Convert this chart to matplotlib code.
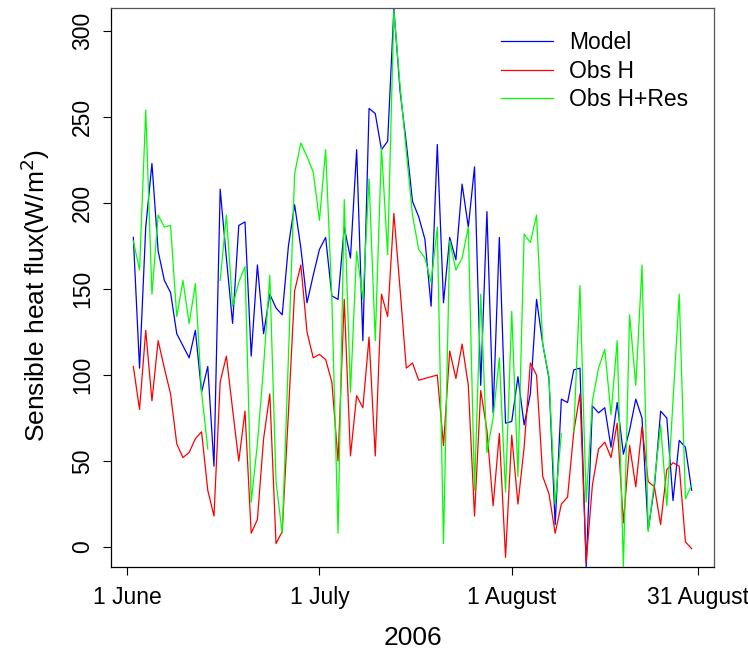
import matplotlib
matplotlib.use("Agg")
import matplotlib.pyplot as plt
import numpy as np

plt.rcParams['font.family'] = ['Liberation Sans', 'DejaVu Sans']

# day index: 0 = 1 June 2006
days = np.arange(1, 92)

model = [180, 104, 186, 223, 172, 155, 148, 124, 117, 110, 126, 90, 105, 47, 208,
         168, 130, 187, 189, 111, 164, 124, 147, 139, 135, 175, 199, 174, 142, 158,
         173, 180, 146, 144, 186, 168, 231, 120, 255, 252, 231, 236, 313, 265, 235,
         201, 192, 179, 140, 234, 142, 180, 167, 211, 186, 221, 94, 195, 78, 180,
         72, 73, 99, 71, 89, 144, 118, 98, 13, 86, 84, 103, 104, -11.6, 82,
         78, 81, 58, 84, 54, 68, 86, 75, 10, 35, 79, 75, 27, 62, 58, 33]

obs_h = [105, 80, 126, 85, 120, 104, 89, 60, 52, 55, 63, 67, 33, 18, 96,
         111, 80, 50, 79, 8, 16, 63, 89, 2, 9, 78, 149, 164, 125, 110,
         112, 109, 96, 50, 144, 53, 88, 81, 122, 53, 147, 134, 194, 150, 104,
         107, 97, 98, 99, 100, 59, 114, 98, 118, 94, 18, 91, 68, 24, 66,
         -6, 65, 25, 58, 107, 100, 41, 31, 8, 25, 29, 67, 89, -9, 36,
         57, 61, 52, 72, 14, 59, 35, 70, 38, 35, 13, 45, 49, 47, 3, -1]

nan = np.nan
obs_hres = [178, 161, 254, 147, 193, 186, 187, 134, 155, 130, 153, 90, 57, nan, 155,
            193, 140, 154, 163, 26, 60, 105, 158, 38, 8, 110, 217, 235, 227, 218,
            190, 231, 145, 8, 202, 90, 172, 144, 214, 120, 232, 170, 312, 268, 230,
            193, 173, 168, 154, 186, 2, 178, 161, 168, 186, 33, 147, 55, 75, 110,
            32, 137, 41, 182, 177, 193, 118, 99, 25, 66, nan, 67, 152, 26, 85,
            104, 115, 77, 120, -11.6, 135, 94, 164, 9, 38, 71, 24, 85, 147, 28, 36]

tick_days = [0, 31, 62, 92]
tick_labels = ['1 June', '1 July', '1 August', '31 August']
y_ticks = [0, 50, 100, 150, 200, 250, 300]

fig = plt.figure(figsize=(7.48, 6.55), dpi=100)
ax = fig.add_axes([0.1484, 0.1344, 0.8061, 0.8534])

ax.plot(days, model, color='#0000FF', lw=0.9, label='Model')
ax.plot(days, obs_h, color='#FF0000', lw=0.9, label='Obs H')
ax.plot(days, obs_hres, color='#00FF00', lw=0.9, label='Obs H+Res')

ax.set_xlim(1 - 0.04 * 90, 91 + 0.04 * 90)
ax.set_ylim(-11.6, 313.4)

ax.set_xticks(tick_days)
ax.set_xticklabels(tick_labels, fontsize=16.5)
ax.set_yticks(y_ticks)
ax.set_yticklabels([str(v) for v in y_ticks], fontsize=16.5, rotation=90, va='center')
ax.tick_params(direction='out', length=6, width=0.8)
ax.tick_params(axis='x', pad=8)
ax.tick_params(axis='y', pad=6)

ax.set_xlabel('2006', fontsize=19, labelpad=12)
ax.set_ylabel('Sensible heat flux(W/m$^2$)', fontsize=19, labelpad=14)
ax.yaxis.label.set_y(0.486)

for s in ['top', 'right']:
    ax.spines[s].set_color('#555555')
for s in ax.spines.values():
    s.set_linewidth(0.9)

ax.legend(loc='upper left', bbox_to_anchor=(0.612, 0.996), frameon=False,
          fontsize=16.5, handlelength=2.27, handletextpad=0.7, labelspacing=0.25)

fig.savefig('out.png', dpi=100)
